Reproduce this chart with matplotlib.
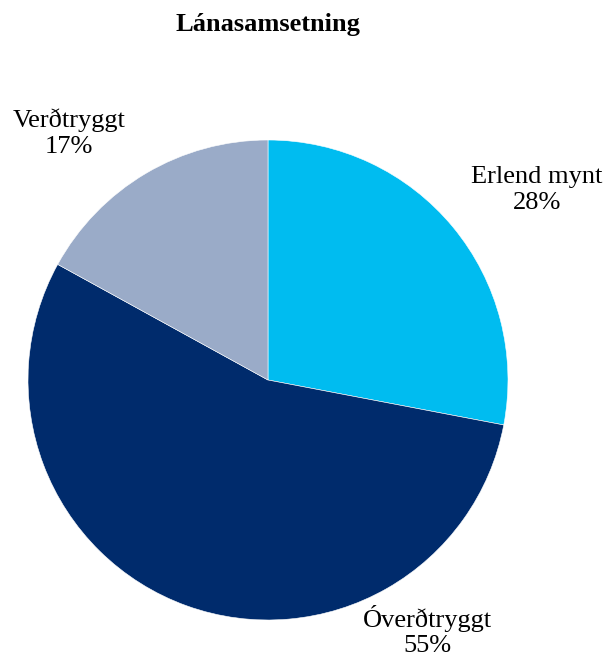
import matplotlib.pyplot as plt

plt.rcParams['font.family'] = ['Liberation Serif', 'DejaVu Serif']

categories = ['Erlend mynt', 'Óverðtryggt', 'Verðtryggt']
shares = [28, 55, 17]
colors = ['#00BCF0', '#002B6C', '#9AABC8']
# label anchor points (pie radius = 1)
label_pos = [(1.121, 0.79), (0.6625, -1.046), (-0.829, 1.027)]

fig = plt.figure(figsize=(6.06, 6.57), dpi=100)
ax = fig.add_axes([28 / 606, 37 / 657, 480 / 606, 480 / 657])

wedges, _ = ax.pie(shares, colors=colors, startangle=90, counterclock=False,
                   radius=1, wedgeprops=dict(edgecolor='white', linewidth=0.4))
for name, val, (x, y) in zip(categories, shares, label_pos):
    ax.text(x, y, '%s\n%d%%' % (name, val), ha='center', va='center',
            fontsize=19, linespacing=1.23, clip_on=False)

ax.set_xlim(-1, 1)
ax.set_ylim(-1, 1)
ax.set_aspect('equal')
ax.axis('off')

fig.text(268 / 606, 1 - 24 / 657, 'Lánasamsetning', ha='center', va='center',
         fontsize=19, fontweight='bold')

fig.savefig('out.png', dpi=100)
